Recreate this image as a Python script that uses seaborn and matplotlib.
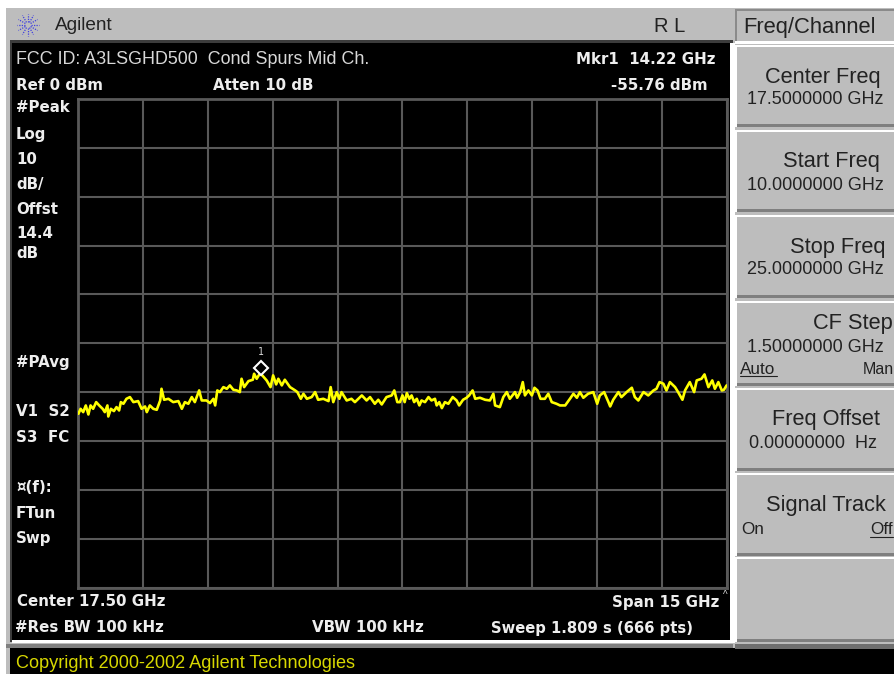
import numpy as np
import seaborn as sns
import matplotlib
matplotlib.use("Agg")
import matplotlib.pyplot as plt
from matplotlib.patches import Rectangle

W, H = 895, 674

# trace: GHz, dBm
freq = [10.01,10.06,10.12,10.18,10.24,10.29,10.35,10.42,10.49,10.57,10.62,10.68,10.70,10.76,10.83,10.89,10.95,10.99,11.05,11.12,
        11.20,11.28,11.39,11.47,11.55,11.59,11.66,11.74,11.82,11.90,11.93,11.99,12.09,12.20,12.32,12.40,12.47,12.55,12.63,12.70,
        12.80,12.86,12.97,13.05,13.13,13.17,13.22,13.28,13.36,13.44,13.51,13.59,13.67,13.74,13.78,13.84,13.94,14.04,14.07,14.13,
        14.21,14.28,14.36,14.45,14.51,14.58,14.63,14.71,14.78,14.90,15.02,15.07,15.15,15.21,15.29,15.40,15.48,15.55,15.67,15.79,
        15.84,15.90,15.98,16.04,16.09,16.21,16.32,16.40,16.56,16.67,16.75,16.86,16.94,17.02,17.13,17.25,17.31,17.38,
        17.44,17.50,17.55,17.60,17.66,17.71,17.77,17.83,17.89,17.94,18.02,18.10,18.17,18.25,18.29,18.35,18.41,18.48,18.56,18.66,
        18.75,18.81,18.90,18.98,19.04,19.12,19.18,19.29,19.41,19.52,19.60,19.64,19.75,19.83,19.91,19.98,20.10,20.15,20.22,20.28,
        20.33,20.41,20.49,20.55,20.62,20.69,20.79,20.87,20.95,21.06,21.14,21.26,21.37,21.45,21.53,21.60,21.68,21.79,21.91,22.00,
        22.06,22.16,22.26,22.30,22.37,22.49,22.56,22.68,22.80,22.87,22.95,23.07,23.18,23.30,23.37,23.44,23.53,23.60,23.68,23.80,
        23.87,23.97,24.03,24.14,24.24,24.30,24.41,24.48,24.57,24.66,24.72,24.80,24.88,24.93,24.99]
level = [-64.44,-63.42,-64.10,-62.73,-64.58,-62.73,-63.42,-62.05,-62.73,-63.42,-64.10,-62.73,-64.99,-63.42,-63.89,-63.07,-63.76,-62.05,-62.39,-61.37,
         -61.02,-62.05,-61.84,-63.42,-62.94,-64.10,-62.73,-63.42,-63.62,-61.71,-59.32,-61.57,-61.37,-62.05,-61.84,-63.42,-62.05,-62.39,-61.02,-62.05,
         -59.66,-61.71,-61.71,-62.25,-61.37,-62.73,-59.66,-60.00,-58.98,-59.32,-58.63,-59.52,-59.66,-60.00,-57.27,-58.98,-57.75,-57.47,-56.24,-57.27,
         -56.11,-56.79,-57.61,-58.98,-56.58,-58.43,-57.27,-58.63,-57.47,-58.98,-59.66,-60.00,-61.37,-60.34,-61.37,-61.02,-60.00,-61.57,-61.37,-61.84,
         -58.98,-62.05,-60.00,-61.37,-60.00,-61.71,-61.37,-62.05,-60.68,-61.71,-61.02,-62.39,-61.57,-62.53,-61.02,-60.68,-59.66,-62.05,
         -62.05,-60.68,-62.05,-60.20,-61.37,-60.68,-62.05,-61.37,-62.73,-61.71,-62.05,-61.02,-61.71,-61.37,-62.73,-62.05,-63.28,-62.05,-62.39,-61.02,
         -61.71,-62.73,-61.57,-61.16,-60.68,-59.66,-61.37,-61.16,-61.57,-61.71,-60.34,-62.73,-63.07,-61.02,-60.00,-61.37,-60.00,-61.16,-60.00,-57.95,
         -60.68,-59.66,-60.68,-59.11,-59.66,-61.37,-61.37,-60.34,-62.05,-62.39,-62.73,-62.73,-61.37,-60.34,-61.16,-60.00,-61.16,-60.34,-60.00,-62.39,
         -60.68,-60.00,-62.05,-62.94,-61.57,-60.00,-61.02,-60.00,-59.11,-61.02,-61.71,-60.00,-60.68,-59.66,-59.32,-57.95,-58.29,-59.66,-57.95,-58.98,
         -60.00,-61.57,-59.66,-57.95,-60.00,-57.61,-57.27,-56.38,-58.98,-57.61,-59.32,-57.95,-59.66,-59.52,-58.63]
marker_freq = 14.22
marker_level = -55.76

GRAY = "#bdbdbd"
sns.set_theme(style="dark")
plt.rcParams["font.family"] = ["Liberation Sans", "DejaVu Sans"]

fig = plt.figure(figsize=(W / 100, H / 100), dpi=100, facecolor="white")

# chrome canvas in pixel coordinates, y downwards
bg = fig.add_axes([0, 0, 1, 1])
bg.set_xlim(0, W)
bg.set_ylim(H, 0)
bg.axis("off")


def box(x0, y0, x1, y1, color):
    bg.add_patch(Rectangle((x0, y0), x1 - x0, y1 - y0, fc=color, ec="none"))


def label(x, y, s, size=12.5, color="#222222", ha="left", weight="normal", **kw):
    bg.text(x, y, s, fontsize=size, color=color, ha=ha, va="center", fontweight=weight, **kw)


def bold(x, y, s, ha="left", size=10.8):
    label(x, y, s, size=size, color="#eeeeee", ha=ha, weight="bold", family="DejaVu Sans")


def button(y0, y1):
    box(735, y0, W, y1, "white")
    box(737, y0 + 2, W, y1, "#7f7f7f")
    box(737, y0 + 2, W, y1 - 3, GRAY)


box(6, 8, W, 674, GRAY)
box(0, 0, W, 8, "white")
box(10, 40, 733, 43, "#3c3c3c")
box(10, 40, 12, 642, "#3c3c3c")
box(12, 43, 730, 640, "black")
box(730, 43, 735, 642, "white")
box(12, 640, 735, 643, "white")
box(6, 644, 733, 648, "#7f7f7f")
box(10, 648, W, 674, "black")
box(735, 644, W, 649, "#6f6f6f")

# Agilent logo
for a in np.arange(0, 2 * np.pi, np.pi / 6):
    bg.plot([28 + 3 * np.cos(a), 28 + 11 * np.cos(a)],
            [25 + 3 * np.sin(a), 25 + 11 * np.sin(a)], color="#3f3fe0", lw=0.9, ls=(0, (1, 1)))
label(55, 26, "Agilent", size=13.7)
label(654, 26, "R L", size=14.5)

# softkey column
box(735, 9, W, 11, "#8a8a8a")
box(735, 9, 737, 41, "#8a8a8a")
box(735, 41, W, 44, "white")
label(743, 27, "Freq/Channel", size=15.8)
button(45, 127)
button(130, 212)
button(215, 298)
button(301, 386)
button(388, 471)
button(473, 556)
button(557, 642)
label(881, 78, "Center Freq", size=15.7, ha="right")
label(884, 100, "17.5000000 GHz", size=13, ha="right")
label(880, 162, "Start Freq", size=15.7, ha="right")
label(884, 185, "10.0000000 GHz", size=13, ha="right")
label(886, 248, "Stop Freq", size=15.7, ha="right")
label(884, 270, "25.0000000 GHz", size=13, ha="right")
label(893, 323, "CF Step", size=15.7, ha="right")
label(884, 347, "1.50000000 GHz", size=13, ha="right")
label(740, 369, "Auto", size=12.3)
label(894, 369, "Man", size=11.5, ha="right")
bg.plot([740, 777], [376, 376], color="#222222", lw=0.8)
label(880, 420, "Freq Offset", size=15.7, ha="right")
label(877, 444, "0.00000000  Hz", size=13, ha="right")
label(886, 505, "Signal Track", size=15.7, ha="right")
label(741, 529, "On", size=12.3)
label(893, 529, "Off", size=12.3, ha="right")
bg.plot([870, 893], [537, 537], color="#222222", lw=0.8)

# screen annotations
label(16, 59, "FCC ID: A3LSGHD500  Cond Spurs Mid Ch.", size=12.9, color="#d8d8d8")
bold(576, 59, "Mkr1  14.22 GHz")
bold(16, 85.5, "Ref 0 dBm")
bold(213, 85.5, "Atten 10 dB")
bold(708, 85.5, "-55.76 dBm", ha="right")
for y, s in zip([108, 134, 159, 184, 209, 234, 253, 362, 412, 438, 488, 513, 538],
                ["#Peak", "Log", "10", "dB/", "Offst", "14.4", "dB", "#PAvg", "V1  S2",
                 "S3  FC", "\u00a4(f):", "FTun", "Swp"]):
    bold(16, y, s)
bold(17, 602, "Center 17.50 GHz")
bold(15, 628, "#Res BW 100 kHz")
bold(312, 628, "VBW 100 kHz")
bold(491, 628, "Sweep 1.809 s (666 pts)", size=10.6)
bold(719, 602, "Span 15 GHz", ha="right")
label(723, 595, "^", size=7, color="#d8d8d8")
label(16, 664, "Copyright 2000-2002 Agilent Technologies", size=13.1, color="#d8d800")

# trace area: 10 div x 10 div
ax = fig.add_axes([78 / W, 1 - 587.5 / H, 649 / W, 488.5 / H], facecolor="black")
sns.lineplot(x=freq, y=level, ax=ax, color="#ffff00", lw=1.9, estimator=None, sort=False, zorder=3)
ax.set_xlim(10, 25)
ax.set_ylim(-100, 0)
ax.set_xticks(np.arange(10, 25.1, 1.5))
ax.set_yticks(np.arange(-100, 1, 10))
ax.set_xticklabels([])
ax.set_yticklabels([])
ax.tick_params(length=0)
ax.grid(True, color="#595959", lw=1.5)
ax.set_axisbelow(True)
for s in ax.spines.values():
    s.set_visible(True)
    s.set_color("#595959")
    s.set_linewidth(2)
ax.plot([marker_freq], [marker_level + 0.6], marker="D", ms=7, mfc="black", mec="white", mew=1.5, zorder=4)
ax.text(marker_freq, marker_level + 3.9, "1", color="#d8d8d8", fontsize=7, ha="center", va="center",
        family="DejaVu Sans Mono", zorder=4)

fig.savefig("out.png", dpi=100)
